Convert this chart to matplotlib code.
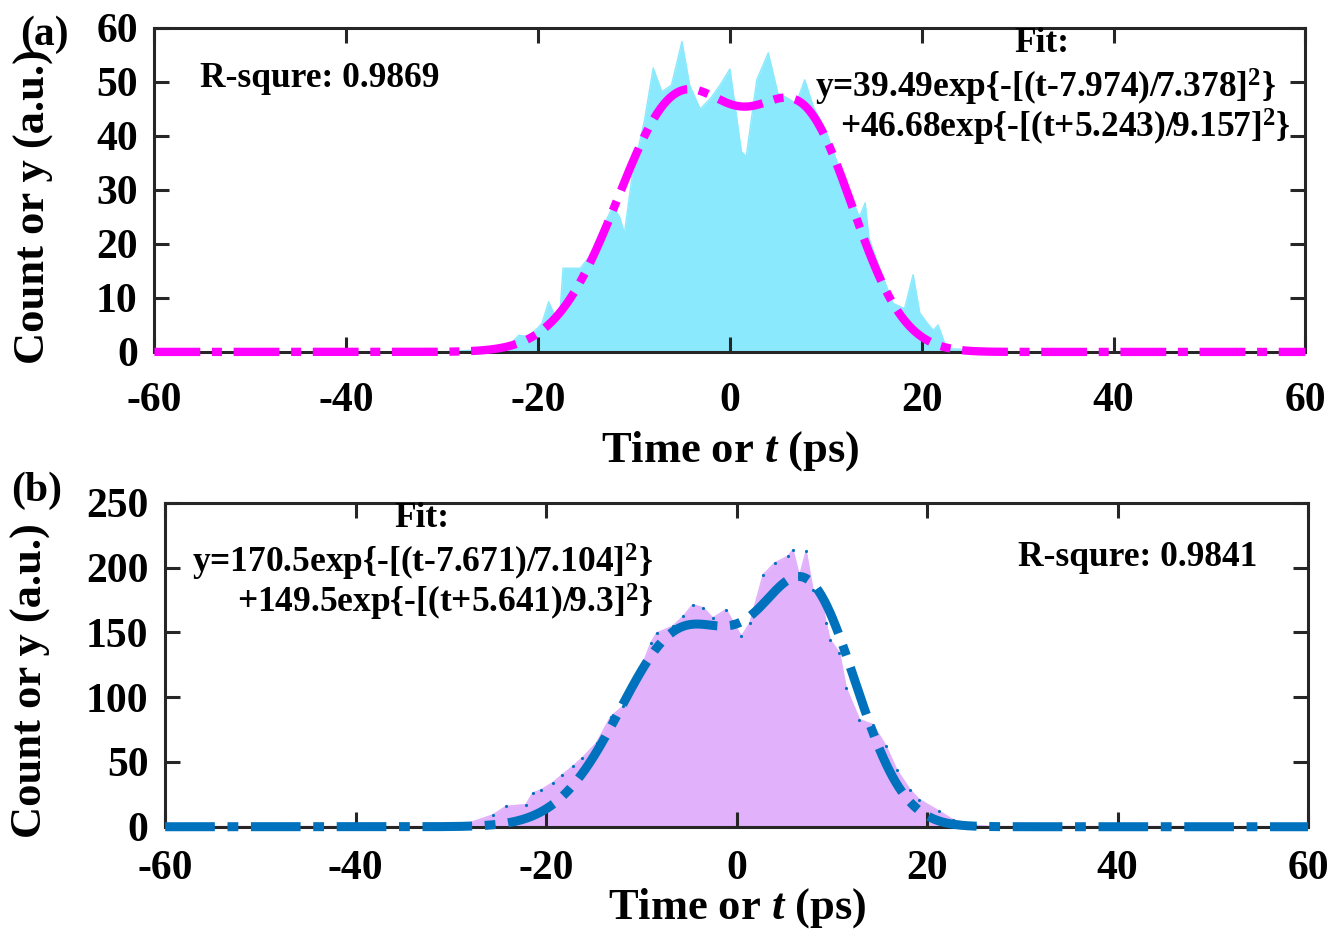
import numpy as np
import matplotlib
matplotlib.use("Agg")
import matplotlib.pyplot as plt

plt.rcParams['font.family'] = ['Liberation Serif', 'DejaVu Serif']
plt.rcParams['font.weight'] = 'bold'
plt.rcParams['axes.unicode_minus'] = False
plt.rcParams['mathtext.fontset'] = 'custom'
plt.rcParams['mathtext.rm'] = 'Liberation Serif:bold'
plt.rcParams['mathtext.it'] = 'Liberation Serif:italic:bold'
plt.rcParams['mathtext.bf'] = 'Liberation Serif:bold'

# (a) measured counts
t_a = [-60, -30, -27, -25, -24, -23, -22, -21, -20, -19.6, -18.9, -18.2, -17.7, -17.4,
       -15.6, -14.5, -13.9, -13, -12.2, -11.5, -11, -10.2, -8.9, -8, -7.1, -6.1, -5,
       -4.2, -3.1, -2, -1, 0, 1.2, 1.7, 2.8, 4.0, 5.0, 6, 6.9, 7.8, 8.7, 10, 11, 12.2,
       13.5, 14.1, 14.5, 15.5, 17, 18.2, 19.1, 19.8, 20.5, 21.2, 21.7, 22.6, 24, 25, 26, 60]
y_a = [0, 0, 0.3, 0.6, 1.0, 1.3, 3.1, 2.8, 4.5, 5.3, 9.3, 6.5, 7.8, 15.5,
       15.5, 18, 20.7, 24, 26.9, 25, 22, 32.5, 43, 52.6, 48.2, 49.4, 57.5,
       49.4, 45, 47, 49.5, 52.4, 37.1, 36.2, 50.4, 55.4, 47.9, 47, 46, 50.4, 45.4, 41, 36, 30.6,
       25, 27.6, 21, 16, 9, 8, 14.3, 7.2, 5.5, 4, 5.0, 0.6, 0.5, 0.3, 0, 0]

# (b) measured counts
t_b = [-60, -30, -28, -25.6, -24.2, -22.1, -21.4, -20.5, -19.3, -18.3, -17.2, -16.2,
       -14.7, -13.2, -11.9, -10.2, -9.0, -8.4, -6.7, -5.6, -4.6, -3.5, -2.5, -1.1, -0.4,
       0.5, 1.4, 2.8, 4.0, 5.4, 5.9, 6.6, 7.3, 8.0, 8.9, 9.4, 9.8, 10.8, 11.5, 12.9,
       14.3, 15.7, 16.8, 18.2, 19.2, 21.3, 22.7, 25, 27, 60]
y_b = [0, 0, 3, 9, 15.7, 17, 26, 28.5, 34, 40, 46.5, 53,
       64.6, 85, 93, 118.6, 141.7, 149.4, 154.6, 162.3, 171.3, 168.8, 161, 167.4, 158.4,
       146.8, 157, 194.4, 203.5, 208.6, 213.7, 193, 212.4, 183, 175, 157, 144.3, 134, 107, 82.6,
       78.7, 62, 44, 28.5, 20.8, 11.8, 5.4, 1, 0, 0]

# two-gaussian fit parameters (amplitude, centre, width) as printed on the chart
fit_a = [(39.49, 7.974, 7.378), (46.68, -5.243, 9.157)]
fit_b = [(170.5, 7.671, 7.104), (149.5, -5.641, 9.3)]
r2_a = 0.9869
r2_b = 0.9841

xticks = [-60, -40, -20, 0, 20, 40, 60]


def gauss2(t, pars):
    return sum(a * np.exp(-((t - c) / w) ** 2) for a, c, w in pars)


tt = np.linspace(-60, 60, 1201)

fig = plt.figure(figsize=(13.43, 9.31), dpi=100)
ax1 = fig.add_axes([0.115, 0.622, 0.857, 0.348])
ax2 = fig.add_axes([0.123, 0.112, 0.851, 0.348])

ink = '#262626'
for ax in (ax1, ax2):
    ax.set_xlim(-60, 60)
    ax.set_xticks(xticks)
    ax.tick_params(direction='in', length=11, width=2.2, color=ink, labelsize=30,
                   top=True, right=True)
    ax.tick_params(axis='y', pad=12)
    for s in ax.spines.values():
        s.set_linewidth(2.2)
        s.set_color(ink)
    for lab in ax.get_xticklabels() + ax.get_yticklabels():
        lab.set_fontweight('bold')

fs = 25.5

# (a)
ax1.fill_between(t_a, y_a, 0, color='#8AE9FC', lw=0, zorder=1)
ax1.plot(t_a, y_a, color='#8AE9FC', lw=1, zorder=1)
ax1.plot(tt, gauss2(tt, fit_a), color='#FF00FF', lw=6, dashes=(5.5, 1.4, 1.2, 1.4),
         clip_on=False, zorder=3)
ax1.set_ylim(0, 60)
ax1.set_yticks([0, 10, 20, 30, 40, 50, 60])
ax1.tick_params(axis='x', pad=22)
ax1.set_xlabel('Time or $t$ (ps)', fontsize=32, fontweight='bold', labelpad=6)
ax1.set_ylabel('Count or y (a.u.)', fontsize=32, fontweight='bold')
ax1.yaxis.set_label_coords(-0.087, 0.45)
ax1.text(-55.2, 50.7, 'R-squre: %.4f' % r2_a, fontsize=fs, fontweight='bold', va='center')
ax1.text(32.5, 57.2, 'Fit:', fontsize=fs, fontweight='bold', ha='center', va='center')
ax1.text(8.85, 48.9, 'y=%.2fexp{-[(t-%.3f)/%.3f]$^2$}' % (fit_a[0][0], fit_a[0][1], fit_a[0][2]),
         fontsize=fs, fontweight='bold', va='center')
ax1.text(11.5, 41.5, '+%.2fexp{-[(t+%.3f)/%.3f]$^2$}' % (fit_a[1][0], -fit_a[1][1], fit_a[1][2]),
         fontsize=fs, fontweight='bold', va='center')
fig.text(0.015, 0.963, '(a)', fontsize=30, fontweight='bold', va='center')

# (b)
ax2.fill_between(t_b, y_b, 0, color='#E2B1FB', lw=0, zorder=1)
ax2.plot(t_b, y_b, color='#E2B1FB', lw=1.2, zorder=1)
ax2.plot(t_b[2:-2], y_b[2:-2], ls='none', marker='.', ms=2.5, color='#0072BD', zorder=2)
ax2.axhline(0, color=ink, lw=2, dashes=(8, 3), zorder=2)
ax2.plot(tt, gauss2(tt, fit_b), color='#0072BD', lw=6.5, dashes=(5.5, 1.4, 1.2, 1.4),
         clip_on=False, zorder=3)
ax2.set_ylim(0, 250)
ax2.set_yticks([0, 50, 100, 150, 200, 250])
ax2.tick_params(axis='x', pad=17)
ax2.set_xlabel('Time or $t$ (ps)', fontsize=32, fontweight='bold', labelpad=-2)
ax2.set_ylabel('Count or y (a.u.)', fontsize=32, fontweight='bold')
ax2.yaxis.set_label_coords(-0.1, 0.45)
ax2.text(29.5, 207.6, 'R-squre: %.4f' % r2_b, fontsize=fs, fontweight='bold', va='center')
ax2.text(-33.1, 238, 'Fit:', fontsize=fs, fontweight='bold', ha='center', va='center')
ax2.text(-57.2, 203.7, 'y=%.1fexp{-[(t-%.3f)/%.3f]$^2$}' % (fit_b[0][0], fit_b[0][1], fit_b[0][2]),
         fontsize=fs, fontweight='bold', va='center')
ax2.text(-52.5, 172.8, '+%.1fexp{-[(t+%.3f)/%.1f]$^2$}' % (fit_b[1][0], -fit_b[1][1], fit_b[1][2]),
         fontsize=fs, fontweight='bold', va='center')
fig.text(0.008, 0.473, '(b)', fontsize=30, fontweight='bold', va='center')

fig.savefig('out.png', dpi=100)
